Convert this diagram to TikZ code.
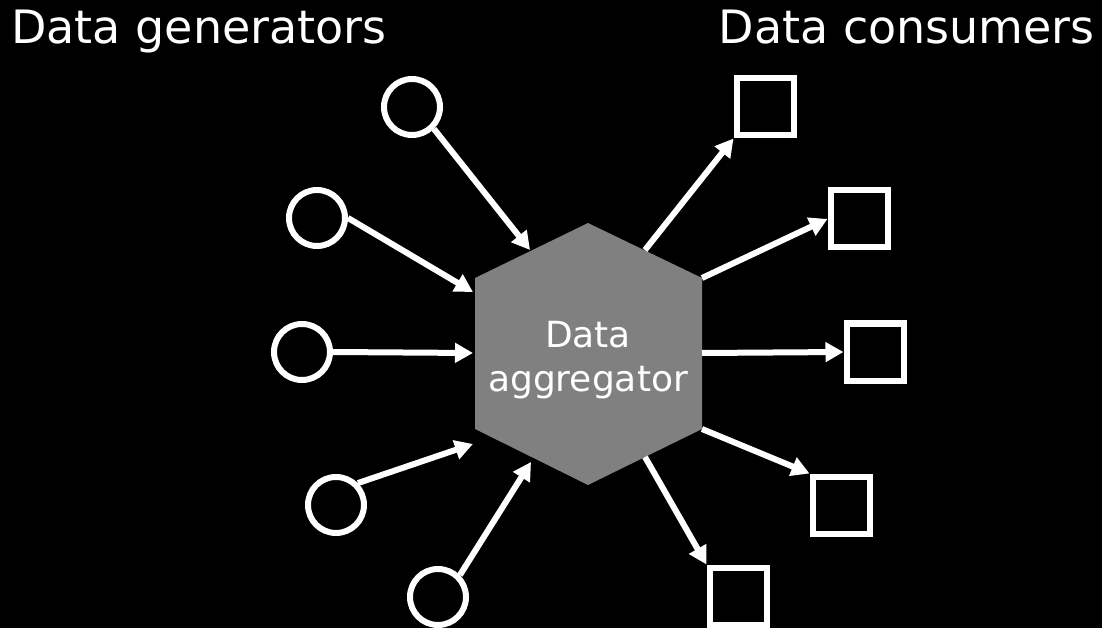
\documentclass[tikz,border=0pt]{standalone}
\usepackage{fontspec}
\setmainfont{DejaVu Sans}
\usetikzlibrary{arrows.meta}
\definecolor{hexgray}{RGB}{128,128,128}
\begin{document}
\begin{tikzpicture}[x=1bp,y=-1bp,
  gen/.style={circle,draw=white,line width=6bp,minimum size=56bp,inner sep=0pt},
  con/.style={rectangle,draw=white,line width=6bp,minimum size=57bp,inner sep=0pt},
  flow/.style={white,line width=6bp,-{Triangle[length=18bp,width=19bp]}},
  title/.style={white,font=\fontsize{46bp}{55bp}\selectfont,inner sep=0pt},
  hexlabel/.style={white,font=\fontsize{36bp}{44bp}\selectfont,align=center,inner sep=0pt}]
% canvas
\fill[black] (0,0) rectangle (1102,628);
\useasboundingbox (0,0) rectangle (1102,628);

% headings
\node[title,anchor=base west] (gentitle) at (11,44) {Data generators};
\node[title,anchor=base east] (contitle) at (1095,44) {Data consumers};

% central aggregator hexagon
\coordinate (hT)  at (588,223);
\coordinate (hUR) at (702,278);
\coordinate (hLR) at (702,429);
\coordinate (hB)  at (588,485);
\coordinate (hLL) at (475,429);
\coordinate (hUL) at (475,278);
\fill[hexgray] (hT) -- (hUR) -- (hLR) -- (hB) -- (hLL) -- (hUL) -- cycle;
\node[hexlabel,anchor=north] (agg) at (588,321) {Data\\aggregator};

% connection points on the hexagon
\coordinate (in1) at (530,250);
\coordinate (in2) at (473,292);
\coordinate (in3) at (473,353);
\coordinate (in4) at (473,444);
\coordinate (in5) at (531,462);
\coordinate (out1) at (645,250);
\coordinate (out2) at (702,278);
\coordinate (out3) at (702,353);
\coordinate (out4) at (702,429);
\coordinate (out5) at (645,457);

% generators
\node[gen] (g1) at (412,107) {};
\node[gen] (g2) at (317,218) {};
\node[gen] (g3) at (302,352) {};
\node[gen] (g4) at (336,505) {};
\node[gen] (g5) at (438,597) {};

% consumers
\node[con] (c1) at (765,107) {};
\node[con] (c2) at (859,219) {};
\node[con] (c3) at (875,352) {};
\node[con] (c4) at (841,505) {};
\node[con] (c5) at (738,596) {};

% incoming flows
\draw[flow] (g1.south east) -- (in1);
\draw[flow] (g2.east) -- (in2);
\draw[flow] (g3.east) -- (in3);
\draw[flow] (g4.north east) -- (in4);
\draw[flow] (g5.north east) -- (in5);

% outgoing flows
\draw[flow] (out1) -- (c1.south west);
\draw[flow] (out2) -- (c2.west);
\draw[flow] (out3) -- (c3.west);
\draw[flow] (out4) -- (c4.north west);
\draw[flow] (out5) -- (c5.north west);
\end{tikzpicture}
\end{document}
